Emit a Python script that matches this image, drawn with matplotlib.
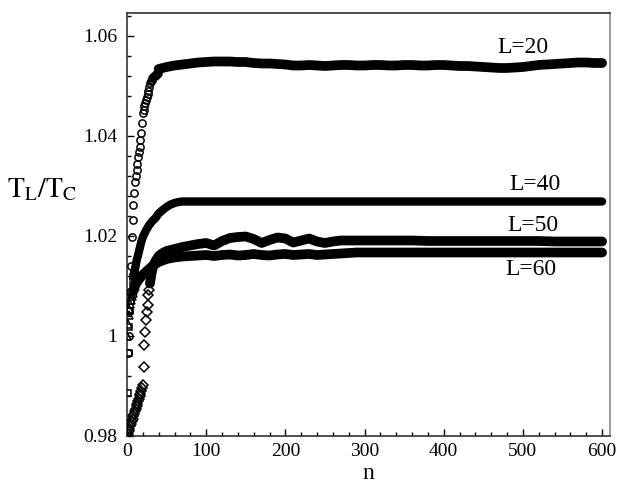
import matplotlib
matplotlib.use("Agg")
import matplotlib.pyplot as plt
from matplotlib.ticker import MultipleLocator

plt.rcParams['font.family'] = ['Liberation Serif', 'DejaVu Serif']
plt.rcParams['mathtext.fontset'] = 'stix'

# ---------------- data ----------------
# L=20 (circles)
l20_early_n = list(range(1, 41))
l20_early_t = [0.9966, 1.0000, 1.0050, 1.0088, 1.0140, 1.0198, 1.0232, 1.0262, 1.0286, 1.0308,
               1.0320, 1.0332, 1.0345, 1.0358, 1.0368, 1.0378, 1.0392, 1.0406, 1.0426, 1.0446,
               1.0452, 1.0460, 1.0466, 1.0472, 1.0478, 1.0484, 1.0490, 1.0498, 1.0506, 1.0510,
               1.0513, 1.0516, 1.0518, 1.0520, 1.0521, 1.0522, 1.0524, 1.0525, 1.0526, 1.0534]
l20_band_n = list(range(40, 601, 10))
l20_band_t = [1.0534, 1.0538, 1.0541, 1.0543, 1.0545, 1.0547, 1.0548, 1.0549, 1.0549, 1.0549,
              1.0548, 1.0548, 1.0546, 1.0545, 1.0545, 1.0544, 1.0543, 1.0541, 1.0541, 1.0542,
              1.0541, 1.0540, 1.0541, 1.0542, 1.0542, 1.0541, 1.0541, 1.0542, 1.0542, 1.0541,
              1.0541, 1.0542, 1.0542, 1.0541, 1.0541, 1.0542, 1.0542, 1.0541, 1.0540, 1.0540,
              1.0539, 1.0538, 1.0537, 1.0536, 1.0536, 1.0537, 1.0538, 1.0540, 1.0542, 1.0543,
              1.0544, 1.0545, 1.0546, 1.0547, 1.0547, 1.0546, 1.0546]

# L=40 (squares)
l40_early_n = list(range(1, 11))
l40_early_t = [0.9886, 0.9966, 1.0018, 1.0050, 1.0070, 1.0088, 1.0102, 1.0118, 1.0125, 1.0132]
l40_band_n = [8, 10, 12, 14, 16, 18, 20, 22, 25, 28, 32, 36, 40, 45, 50, 55, 60, 65, 70, 80,
              90, 100, 120, 140, 160, 180, 200, 240, 280, 320, 360, 400, 440, 480, 520, 560, 600]
l40_band_t = [1.0118, 1.0132, 1.0150, 1.0162, 1.0175, 1.0188, 1.0198, 1.0205, 1.0214, 1.0222,
              1.0230, 1.0236, 1.0245, 1.0252, 1.0258, 1.0263, 1.0266, 1.0268, 1.0269, 1.0269,
              1.0269, 1.0269, 1.0269, 1.0269, 1.0269, 1.0269, 1.0269, 1.0269, 1.0269, 1.0269,
              1.0269, 1.0269, 1.0269, 1.0269, 1.0269, 1.0269, 1.0269]

# L=50 (diamonds)
l50_early_n = list(range(0, 29))
l50_early_t = [0.9800, 0.9805, 0.9810, 0.9815, 0.9820, 0.9825, 0.9830, 0.9835, 0.9840, 0.9845,
               0.9850, 0.9855, 0.9860, 0.9865, 0.9870, 0.9875, 0.9880, 0.9885, 0.9890, 0.9896,
               0.9902, 0.9938, 0.9982, 1.0008, 1.0032, 1.0048, 1.0062, 1.0082, 1.0092]
l50_band_n = [29, 31, 33, 36, 40, 45, 50, 60, 70, 80, 90, 100, 110, 120, 130, 140, 150, 160,
              170, 180, 190, 200, 210, 220, 230, 240, 250, 260, 270, 280, 300, 320, 340, 360,
              380, 400, 420, 440, 460, 480, 500, 520, 540, 560, 580, 600]
l50_band_t = [1.0105, 1.0125, 1.0140, 1.0150, 1.0160, 1.0166, 1.0170, 1.0174, 1.0178, 1.0181,
              1.0184, 1.0186, 1.0181, 1.0190, 1.0196, 1.0198, 1.0199, 1.0194, 1.0186, 1.0192,
              1.0197, 1.0195, 1.0187, 1.0191, 1.0195, 1.0189, 1.0186, 1.0189, 1.0191, 1.0191,
              1.0191, 1.0191, 1.0191, 1.0191, 1.0190, 1.0190, 1.0190, 1.0190, 1.0190, 1.0190,
              1.0190, 1.0190, 1.0189, 1.0189, 1.0189, 1.0189]

# L=60 (triangles)
l60_early_n = list(range(0, 11))
l60_early_t = [1.0000, 1.0025, 1.0042, 1.0055, 1.0065, 1.0073, 1.0080, 1.0086, 1.0091, 1.0096,
               1.0100]
l60_band_n = [10, 12, 15, 18, 21, 25, 30, 35, 40, 50, 60, 70, 80, 90, 100, 110, 120, 130, 140,
              150, 160, 170, 180, 190, 200, 210, 220, 230, 240, 250, 260, 270, 280, 290, 300,
              320, 340, 360, 380, 400, 420, 440, 460, 480, 500, 520, 540, 560, 580, 600]
l60_band_t = [1.0100, 1.0106, 1.0113, 1.0119, 1.0124, 1.0130, 1.0137, 1.0143, 1.0148, 1.0154,
              1.0157, 1.0159, 1.0160, 1.0161, 1.0162, 1.0160, 1.0162, 1.0163, 1.0161, 1.0162,
              1.0164, 1.0162, 1.0161, 1.0163, 1.0164, 1.0162, 1.0163, 1.0164, 1.0162, 1.0163,
              1.0164, 1.0165, 1.0166, 1.0167, 1.0167, 1.0167, 1.0167, 1.0167, 1.0167, 1.0167,
              1.0167, 1.0167, 1.0167, 1.0167, 1.0167, 1.0167, 1.0167, 1.0167, 1.0167, 1.0167]

series_labels = ["L=20", "L=40", "L=50", "L=60"]
label_pos_n = [500, 515, 513, 510]
label_pos_t = [1.0577, 1.0304, 1.0221, 1.0133]

x_ticks = [0, 100, 200, 300, 400, 500, 600]
y_ticks = [0.98, 1.00, 1.02, 1.04, 1.06]
y_tick_labels = ["0.98", "1", "1.02", "1.04", "1.06"]

# ---------------- figure ----------------
fig = plt.figure(figsize=(6.2, 4.83), dpi=100)
ax = fig.add_axes([127/620, 1-436/483, (610-127)/620, (436-13)/483])

early = [(l20_early_n, l20_early_t, 'o', 5.2),
         (l40_early_n, l40_early_t, 's', 4.8),
         (l50_early_n, l50_early_t, 'D', 4.8),
         (l60_early_n, l60_early_t, '^', 5.2)]
bands = [(l20_band_n, l20_band_t, 7.0),
         (l40_band_n, l40_band_t, 6.0),
         (l50_band_n, l50_band_t, 7.0),
         (l60_band_n, l60_band_t, 7.0)]

for n, t, lw in bands:
    ax.plot(n, t, '-', color='black', lw=lw, solid_capstyle='round',
            solid_joinstyle='round', zorder=2)

for n, t, m, ms in early:
    ax.plot(n, t, linestyle='none', marker=m, ms=ms, mfc='none', mec='black', mew=1.1, zorder=3)

for lab, xn, yt in zip(series_labels, label_pos_n, label_pos_t):
    ax.text(xn, yt, lab, fontsize=17, ha='center', va='center', color='black')

ax.set_xlim(0, 610)
ax.set_ylim(0.98, 1.0646)
ax.set_xticks(x_ticks)
ax.set_yticks(y_ticks)
ax.set_yticklabels(y_tick_labels)
ax.xaxis.set_minor_locator(MultipleLocator(20))
ax.yaxis.set_minor_locator(MultipleLocator(0.004))
ax.tick_params(which='both', direction='in', top=False, right=False, labelsize=14, width=1.0)
ax.tick_params(which='major', length=5)
ax.tick_params(which='minor', length=3)
ax.tick_params(axis='y', pad=7)
ax.tick_params(axis='x', pad=5)

for side in ['left', 'bottom', 'top']:
    ax.spines[side].set_color('#333333')
    ax.spines[side].set_linewidth(1.2)
ax.spines['right'].set_color('#8a8a8a')
ax.spines['right'].set_linewidth(1.2)

ax.set_xlabel('n', fontsize=17, labelpad=2)
fig.text(42/620, 1-190/483, r'$\mathrm{T}_{\mathrm{L}}/\mathrm{T}_{\mathrm{C}}$', fontsize=20,
         ha='center', va='center')

fig.savefig('out.png', dpi=100)
